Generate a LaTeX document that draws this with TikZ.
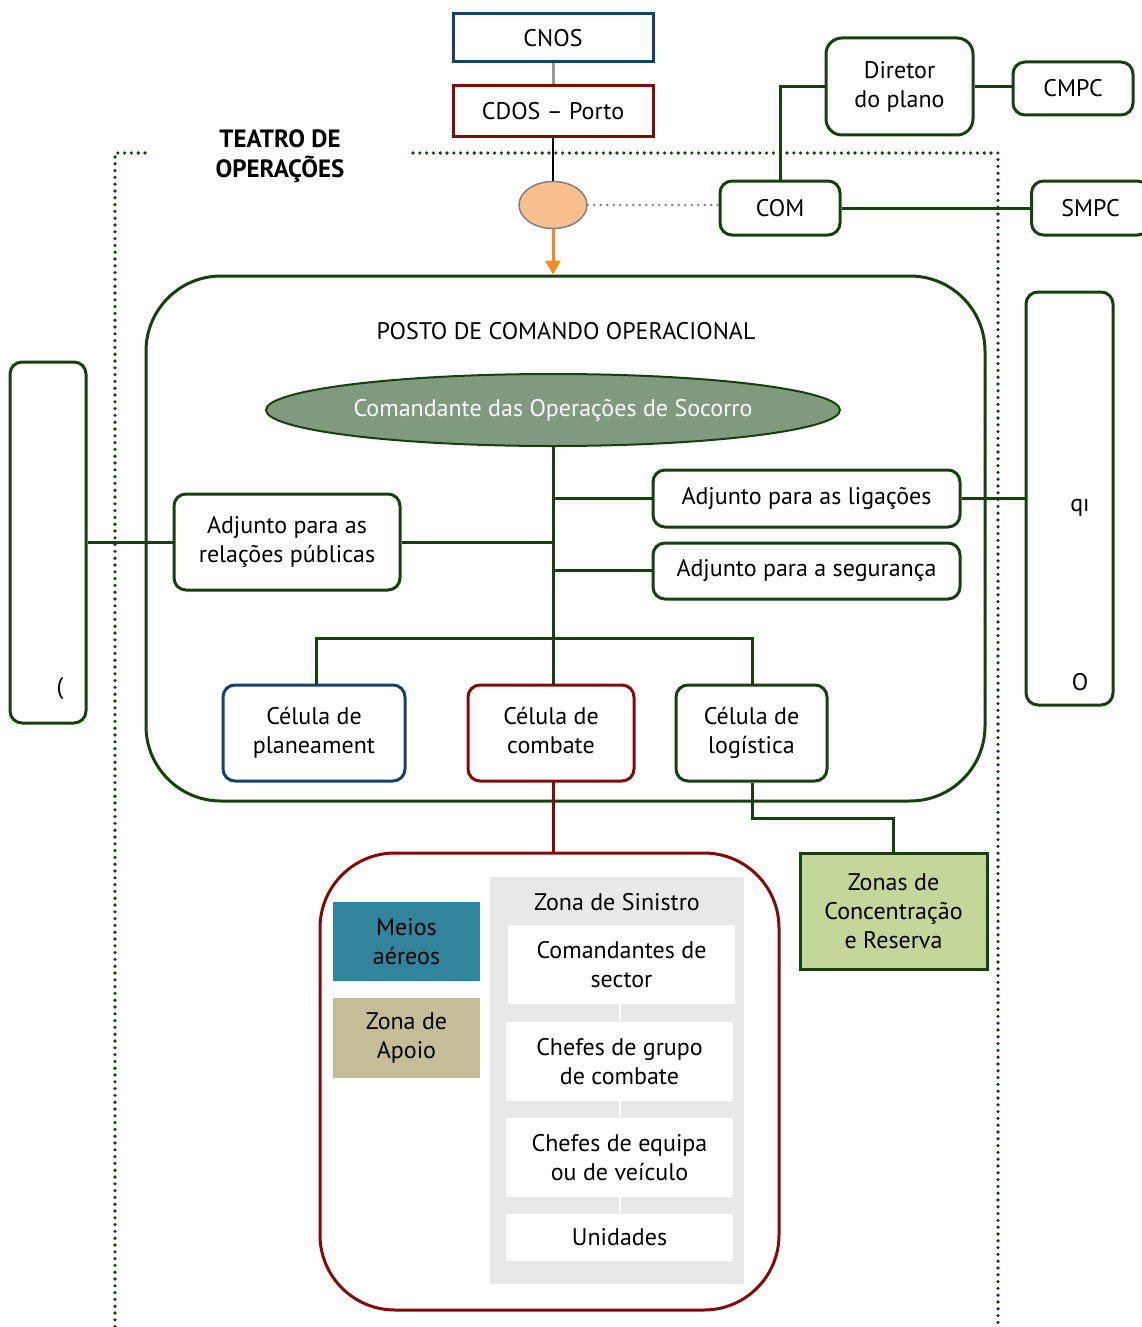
\documentclass[tikz,border=0pt]{standalone}
\usepackage{fontspec}
\setmainfont{PT Sans}
\usetikzlibrary{shapes.geometric,arrows.meta}
\definecolor{dgreen}{HTML}{17400F}
\definecolor{dblue}{HTML}{17406D}
\definecolor{dred}{HTML}{820A0A}
\definecolor{peach}{HTML}{F9C08F}
\definecolor{orangeA}{HTML}{F58A1F}
\definecolor{sage}{HTML}{7F9A7E}
\definecolor{lgreen}{HTML}{C4D79B}
\definecolor{teal}{HTML}{31849B}
\definecolor{khaki}{HTML}{C4BD97}
\definecolor{panel}{HTML}{E8E8E8}
\begin{document}
\begin{tikzpicture}[x=1pt,y=-1pt,
  txt/.style={font=\fontsize{24}{29}\selectfont, align=center, text=black},
  sqbox/.style={txt, draw, line width=3pt, inner sep=0pt},
  rbox/.style={txt, draw=dgreen, line width=3pt, rounded corners=12pt, inner sep=0pt},
  link/.style={draw=dgreen, line width=3pt},
  frame/.style={draw=dgreen, line width=3.6pt, line cap=round, dash pattern=on 0pt off 6.8pt},
  fillbox/.style={txt, inner sep=0pt},
]
\useasboundingbox (0,0) rectangle (1142,1327);
\clip (0,0) rectangle (1142,1327);

% Teatro de operações: dotted frame and title
\draw[frame] (145,153) -- (115,153) -- (115,1327);
\draw[frame] (413,153) -- (998,153) -- (998,1327);
\node[font=\fontsize{25}{30}\selectfont\bfseries, align=center] (teatro) at (280,156) {TEATRO DE\\OPERAÇÕES};

% Top chain
\node[sqbox, draw=dblue, minimum width=200, minimum height=48] (cnos) at (553,38) {CNOS};
\node[sqbox, draw=dred, minimum width=200, minimum height=51] (cdos) at (553,111) {CDOS -- Porto};
\draw[gray!80, line width=3pt] (cnos) -- (cdos);
\node[ellipse, draw=gray, fill=peach, line width=1.5pt, minimum width=68, minimum height=47, inner sep=0pt] (hub) at (553,205) {};
\draw[black, line width=1.5pt] (cdos) -- (hub);

% Right-hand command boxes
\node[rbox, minimum width=120, minimum height=54] (com) at (780,208) {COM};
\node[rbox, minimum width=147, minimum height=97, rounded corners=16pt] (dir) at (899.5,86.5) {Diretor\\do plano};
\node[rbox, minimum width=120, minimum height=53] (cmpc) at (1073,88.5) {CMPC};
\node[rbox, minimum width=118, minimum height=54, anchor=west] (smpc) at (1030,208) {SMPC};
\draw[link] (dir.west |- 0,87) -| (com.north);
\draw[link] (dir.east |- 0,87) -- (cmpc.west |- 0,87);
\draw[link] (com.east) -- (smpc.west);
\draw[gray, line width=2.8pt, line cap=round, dash pattern=on 0pt off 6.5pt] (hub.east) -- (hub.east -| com.west);

% Posto de comando operacional
\node[draw=dgreen, line width=3pt, rounded corners=75pt, minimum width=839, minimum height=525, inner sep=0pt] (pco) at (565.5,538.5) {};
\draw[orangeA, line width=3pt, -{Triangle[length=14pt,width=15pt]}] (hub.south) -- (hub.south |- pco.north);
\node[txt] (pcotitle) at (566,331) {POSTO DE COMANDO OPERACIONAL};
\node[ellipse, draw=dgreen, fill=sage, line width=2pt, minimum width=574, minimum height=72, inner sep=0pt, txt, text=white] (cos) at (553,410) {Comandante das Operações de Socorro};

\node[rbox, minimum width=307, minimum height=57] (adlig) at (806.5,498.5) {Adjunto para as ligações};
\node[rbox, minimum width=307, minimum height=56] (adseg) at (806.5,571) {Adjunto para a segurança};
\node[rbox, minimum width=226, minimum height=96] (adrp) at (287,542) {Adjunto para as\\relações públicas};

\node[rbox, minimum width=76, minimum height=361] (leftbox) at (48,542.5) {};
\node[txt] (leftmark) at (60,689) {(};
\node[rbox, minimum width=87, minimum height=413] (rightbox) at (1069.5,498.5) {};
\node[txt] (rightmark1) at (1080,508) {qı};
\node[txt] (rightmark2) at (1080,682) {O};

\node[sqbox, draw=dblue, rounded corners=12pt, minimum width=182, minimum height=96] (cplan) at (314,733) {Célula de\\planeament};
\node[sqbox, draw=dred, rounded corners=12pt, minimum width=166, minimum height=96] (ccomb) at (551,733) {\strut Célula de\\\strut combate};
\node[rbox, minimum width=151, minimum height=96] (clog) at (751.5,733) {Célula de\\logística};

\draw[link] (cos.south) -- (553,685);
\draw[link] (553,498) -- (adlig.west |- 0,498);
\draw[link] (553,570) -- (adseg.west |- 0,570);
\draw[link] (553,542) -- (adrp.east |- 0,542);
\draw[link] (leftbox.east |- 0,542) -- (adrp.west |- 0,542);
\draw[link] (adlig.east |- 0,498) -- (rightbox.west |- 0,498);
\draw[link] (cplan.north -| 316,0) |- (752,638) -- (clog.north -| 752,0);

% Lower zones
\node[sqbox, draw=dgreen, fill=lgreen, minimum width=187, minimum height=116] (zcr) at (893.5,911) {Zonas de\\Concentração\\e Reserva};
\draw[link] (clog.south -| 752,0) |- (893,818) -- (zcr.north -| 893,0);

\node[draw=dred, line width=3pt, rounded corners=75pt, minimum width=459, minimum height=457, inner sep=0pt] (zone) at (549.5,1081.5) {};
\draw[dred, line width=3pt] (553,781) -- (553,853);

\node[fillbox, fill=teal, minimum width=147, minimum height=79] (meios) at (406.5,941.5) {Meios\\aéreos};
\node[fillbox, fill=khaki, minimum width=147, minimum height=80] (apoio) at (406.5,1038) {Zona de\\Apoio};

\node[fill=panel, minimum width=254, minimum height=407, inner sep=0pt] (sinistro) at (617,1080.5) {};
\node[txt] (sintitle) at (617,902) {Zona de Sinistro};
\node[fillbox, fill=white, minimum width=227, minimum height=79] (cmdsec) at (621.5,964.5) {Comandantes de\\sector};
\node[fillbox, fill=white, minimum width=227, minimum height=79] (chgrp) at (619.5,1061.5) {Chefes de grupo\\de combate};
\node[fillbox, fill=white, minimum width=227, minimum height=79] (cheq) at (619.5,1157.5) {Chefes de equipa\\ou de veículo};
\node[fillbox, fill=white, minimum width=227, minimum height=47] (unid) at (619.5,1237.5) {Unidades};
\draw[white, line width=2pt] (620,1004) -- (620,1022) (620,1101) -- (620,1118) (620,1197) -- (620,1214);
\end{tikzpicture}
\end{document}
